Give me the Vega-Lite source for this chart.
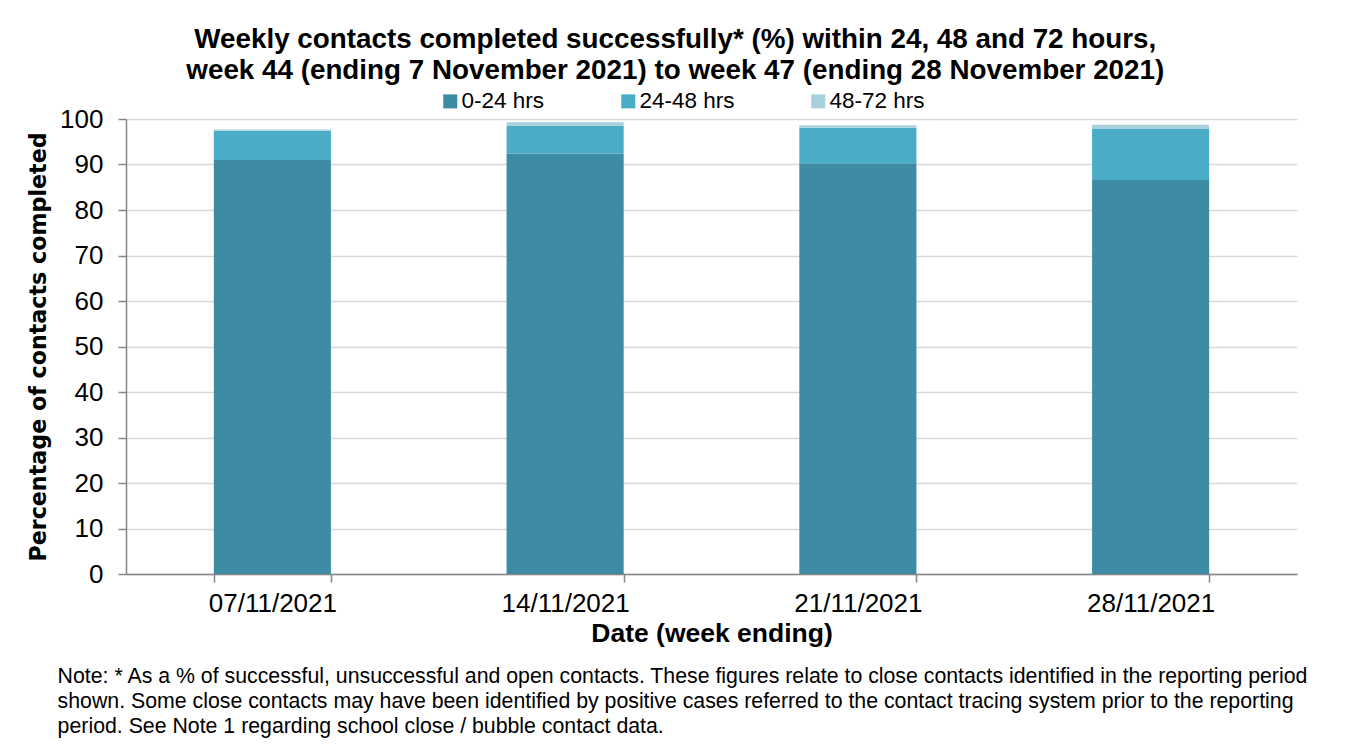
{
  "$schema": "https://vega.github.io/schema/vega-lite/v6.json",
  "padding": {"left": 27, "top": 26, "right": 40, "bottom": 10},
  "background": "#ffffff",
  "title": {
    "text": [
      "Weekly contacts completed successfully* (%) within 24, 48 and 72 hours,",
      "week 44 (ending 7 November 2021) to week 47 (ending 28 November 2021)"
    ],
    "anchor": "middle",
    "frame": "bounds",
    "font": "Liberation Sans",
    "fontSize": 27.8,
    "fontWeight": "bold",
    "color": "#000000",
    "lineHeight": 31,
    "offset": 5,
    "dx": 7
  },
  "vconcat": [
    {
      "width": 1171,
      "height": 455,
      "title": {
        "text": [
          "Note: * As a % of successful, unsuccessful and open contacts. These figures relate to close contacts identified in the reporting period",
          "shown. Some close contacts may have been identified by positive cases referred to the contact tracing system prior to the reporting",
          "period. See Note 1 regarding school close / bubble contact data."
        ],
        "orient": "bottom",
        "anchor": "start",
        "frame": "bounds",
        "font": "Liberation Sans",
        "fontSize": 21.3,
        "fontWeight": "normal",
        "color": "#000000",
        "lineHeight": 25,
        "offset": 19,
        "dx": 30
      },
      "data": {
        "values": [
          {"date": "07/11/2021", "band": "0-24 hrs", "ord": 1, "value": 91.0},
          {"date": "07/11/2021", "band": "24-48 hrs", "ord": 2, "value": 6.4},
          {"date": "07/11/2021", "band": "48-72 hrs", "ord": 3, "value": 0.3},
          {"date": "14/11/2021", "band": "0-24 hrs", "ord": 1, "value": 92.4},
          {"date": "14/11/2021", "band": "24-48 hrs", "ord": 2, "value": 6.1},
          {"date": "14/11/2021", "band": "48-72 hrs", "ord": 3, "value": 0.8},
          {"date": "21/11/2021", "band": "0-24 hrs", "ord": 1, "value": 90.3},
          {"date": "21/11/2021", "band": "24-48 hrs", "ord": 2, "value": 7.8},
          {"date": "21/11/2021", "band": "48-72 hrs", "ord": 3, "value": 0.5},
          {"date": "28/11/2021", "band": "0-24 hrs", "ord": 1, "value": 86.6},
          {"date": "28/11/2021", "band": "24-48 hrs", "ord": 2, "value": 11.3},
          {"date": "28/11/2021", "band": "48-72 hrs", "ord": 3, "value": 0.85}
        ]
      },
      "mark": {"type": "bar", "stroke": null},
      "encoding": {
        "x": {
          "field": "date",
          "type": "nominal",
          "sort": null,
          "scale": {"paddingInner": 0.6, "paddingOuter": 0.3},
          "axis": {
            "title": "Date (week ending)",
            "labelAngle": 0,
            "tickBand": "extent",
            "labelFontSize": 26,
            "labelPadding": 8,
            "titleFontSize": 26.5,
            "titleFontWeight": "bold",
            "titlePadding": 4,
            "tickSize": 8
          }
        },
        "y": {
          "field": "value",
          "type": "quantitative",
          "stack": "zero",
          "scale": {"domain": [0, 100]},
          "axis": {
            "title": "Percentage of contacts completed",
            "titleFont": "DejaVu Sans",
            "values": [0, 10, 20, 30, 40, 50, 60, 70, 80, 90, 100],
            "labelFontSize": 26,
            "labelPadding": 15,
            "titleFontSize": 22.2,
            "titleFontWeight": "bold",
            "titlePadding": 9,
            "tickSize": 8,
            "grid": true
          }
        },
        "color": {
          "field": "band",
          "type": "nominal",
          "scale": {
            "domain": ["0-24 hrs", "24-48 hrs", "48-72 hrs"],
            "range": ["#3e8ca3", "#4aacc6", "#a8d0dc"]
          },
          "legend": {
            "title": null,
            "orient": "none",
            "legendX": 313,
            "legendY": -29,
            "direction": "horizontal",
            "symbolType": "square",
            "symbolSize": 196,
            "symbolStrokeWidth": 0,
            "labelFontSize": 22.5,
            "labelColor": "#000000",
            "labelOffset": 0,
            "columnPadding": 72
          }
        },
        "order": {"field": "ord", "type": "quantitative"}
      }
    }
  ],
  "config": {
    "font": "Liberation Sans",
    "view": {"stroke": null},
    "axis": {
      "labelFont": "Liberation Sans",
      "titleFont": "Liberation Sans",
      "labelColor": "#000000",
      "titleColor": "#000000",
      "domainColor": "#868686",
      "domainWidth": 1.5,
      "tickColor": "#868686",
      "tickWidth": 1.5,
      "gridColor": "#d9d9d9",
      "gridWidth": 1.5
    },
    "legend": {"labelFont": "Liberation Sans"}
  }
}
